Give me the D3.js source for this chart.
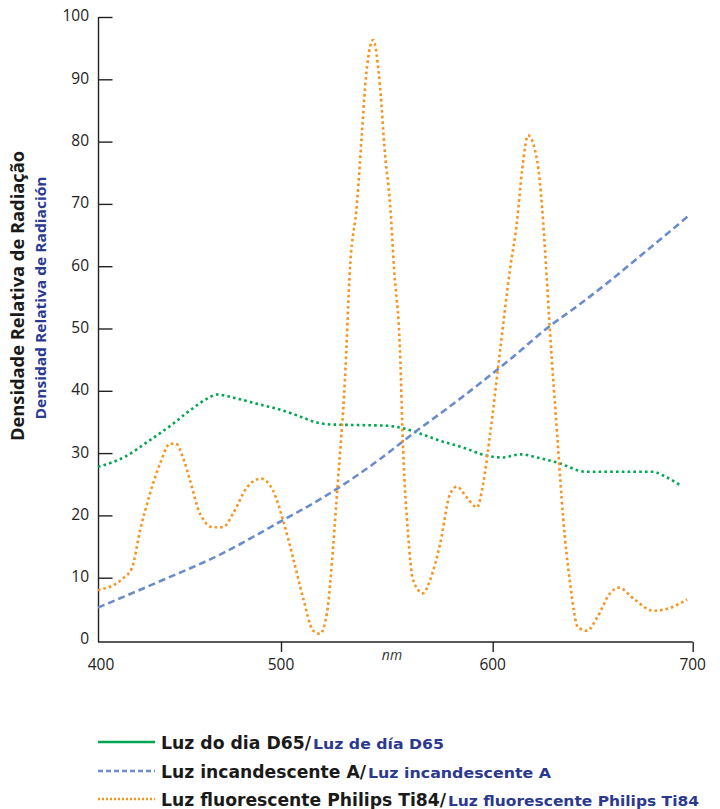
<!DOCTYPE html>
<html><head><meta charset="utf-8">
<script src="https://cdn.jsdelivr.net/npm/d3@7"></script>
<style>
html,body{margin:0;padding:0;background:#fff;}
svg{display:block;font-family:"Open Sans","Noto Sans",sans-serif;}
</style></head>
<body><svg id="c" width="720" height="809"></svg>
<script>
// ---- data ----
const xTicks = [400, 500, 600, 700];
const yTicks = [0, 10, 20, 30, 40, 50, 60, 70, 80, 90, 100];
const seriesNames = ["Luz do dia D65/", "Luz incandescente A/", "Luz fluorescente Philips Ti84/"];
const seriesNamesEs = ["Luz de día D65", "Luz incandescente A", "Luz fluorescente Philips Ti84"];
const d65 = [[400,27.8],[414,29.3],[428,32.0],[441,34.7],[450,36.8],[460,38.8],[465,39.4],[474,38.9],[487,37.9],[498,37.1],[508,36.0],[517,34.9],[523,34.6],[536,34.5],[550,34.4],[556,34.1],[566,33.1],[575,32.0],[586,30.9],[597,29.6],[605,29.3],[614,29.8],[622,29.3],[632,28.5],[647,27.0],[660,27.0],[680,27.0],[687,26.1],[694,24.8]];
const illA = [[400,5.2],[432,9.2],[468,13.9],[499,18.9],[520,22.9],[547,29.1],[563,33.3],[579,37.3],[594,41.2],[610,45.4],[627,50.0],[644,54.0],[660,58.0],[677,62.5],[698,68.1]];
const ti84 = [[400,8.0],[413.7,9.9],[418.6,11.6],[423,17.6],[428.4,23.5],[433.9,28.3],[439.3,31.5],[442.6,31.5],[446.4,29.3],[450.3,25.6],[455.7,20.3],[462.8,18.1],[468.3,18.1],[473.8,20.3],[481.4,24.5],[489,25.9],[495.6,24.0],[501,19.2],[505.7,13.2],[510.4,6.8],[515.2,1.5],[518.4,1.0],[521.7,4.3],[524.6,14.8],[526.9,25.6],[530.2,41.7],[532.6,59.8],[535.9,70.1],[538.3,81.8],[539.7,88.7],[543.5,96.3],[546.8,88.7],[549.1,78.1],[551.5,70.1],[553.4,59.6],[556.2,46.5],[557.7,30.4],[560,17.1],[562.4,9.6],[567.1,7.5],[570.4,9.6],[575.2,15.5],[579.9,23.5],[583.2,24.6],[587.9,22.8],[592.6,21.3],[595.5,25.1],[598.8,33.1],[603.7,46.5],[608.7,59.6],[612.2,67.3],[614.7,75.4],[617.7,81.0],[622.2,77.0],[624.7,69.4],[626.7,59.8],[628.7,49.2],[632.2,33.1],[635.2,19.7],[638.7,9.1],[642.7,2.0],[647.2,1.5],[652.2,3.6],[658.7,7.5],[663.2,8.4],[670.2,6.7],[680.2,4.7],[687.2,5.0],[697.2,6.5]];

const colors = ["#00a651", "#6b8ccc", "#f7931e"];
const blueText = "#2b3990";

const svg = d3.select("#c");
// irregular axis spacing as in the original artwork
const x = d3.scaleLinear().domain(xTicks).range([98, 281, 492.7, 692.7]);
const y = d3.scaleLinear().domain([0, 100]).range([640, 17]);

// y axis
const ya = svg.append("g").attr("transform", "translate(98.5,0)")
  .call(d3.axisRight(y).tickValues(yTicks).tickSize(14).tickFormat(""));
ya.select(".domain").attr("d", `M0,${y(100)}V${642}`).attr("stroke", "#222").attr("stroke-width", 1.4);
ya.selectAll(".tick line").attr("stroke", "#222").attr("stroke-width", 1.4);
ya.selectAll(".tick").filter(d => d === 0).select("line").remove();
svg.append("g").selectAll("text").data(yTicks).join("text")
  .attr("x", 89).attr("y", d => y(d) - 1).attr("dy", "0.35em")
  .attr("text-anchor", "end").attr("font-size", 15.5).attr("fill", "#222").text(d => d);

// x axis
const xa = svg.append("g").attr("transform", "translate(0,642)")
  .call(d3.axisBottom(x).tickValues(xTicks.slice(1)).tickSize(10).tickSizeOuter(0).tickFormat(""));
xa.select(".domain").attr("d", `M98,0H${x(700)}`).attr("stroke", "#222").attr("stroke-width", 1.4);
xa.selectAll(".tick line").attr("stroke", "#222").attr("stroke-width", 1.4);
svg.append("g").selectAll("text").data(xTicks).join("text")
  .attr("x", d => d === 400 ? 101 : x(d)).attr("y", 670)
  .attr("text-anchor", "middle").attr("font-size", 15.5).attr("fill", "#222").text(d => d);
svg.append("text").attr("x", 392).attr("y", 660).attr("text-anchor", "middle")
  .attr("font-size", 14).attr("font-style", "italic").attr("fill", "#333").text("nm");

// axis titles
svg.append("text").attr("transform", "translate(24,296) rotate(-90)").attr("text-anchor", "middle")
  .attr("font-size", 18).attr("font-weight", "bold").attr("fill", "#1a1a1a")
  .attr("textLength", 290).attr("lengthAdjust", "spacingAndGlyphs").text("Densidade Relativa de Radiação");
svg.append("text").attr("transform", "translate(46,298) rotate(-90)").attr("text-anchor", "middle")
  .attr("font-size", 15).attr("font-weight", "bold").attr("fill", blueText)
  .attr("textLength", 243).attr("lengthAdjust", "spacingAndGlyphs").text("Densidad Relativa de Radiación");

// lines
const line = d3.line().x(d => x(d[0])).y(d => y(d[1])).curve(d3.curveMonotoneX);
const dashes = ["2.6,3.2", "7,4", "2.6,3"];
const data = [d65, illA, ti84];
data.forEach((s, i) => {
  svg.append("path").datum(s).attr("d", line).attr("fill", "none")
    .attr("stroke", colors[i]).attr("stroke-width", 2.6).attr("stroke-dasharray", dashes[i]);
});

// legend
const legDash = [null, "5,3", "2,2"];
const legY = [742, 771, 799];
const blackW = [150, 205, 285];
const blueW = [131, 183, 251];
seriesNames.forEach((n, i) => {
  const g = svg.append("g");
  g.append("line").attr("x1", 98).attr("x2", 155).attr("y1", legY[i]).attr("y2", legY[i])
    .attr("stroke", colors[i]).attr("stroke-width", 2.6).attr("stroke-dasharray", legDash[i]);
  g.append("text").attr("x", 161).attr("y", legY[i] + 6.5).attr("font-weight", "bold")
    .attr("font-family", "'DejaVu Sans', sans-serif")
    .attr("font-size", 17).attr("fill", "#1a1a1a")
    .attr("textLength", blackW[i]).attr("lengthAdjust", "spacingAndGlyphs").text(n);
  g.append("text").attr("x", 161 + blackW[i] + 2).attr("y", legY[i] + 6.5).attr("font-weight", "bold")
    .attr("font-family", "'DejaVu Sans', sans-serif")
    .attr("font-size", 14).attr("fill", blueText)
    .attr("textLength", blueW[i]).attr("lengthAdjust", "spacingAndGlyphs").text(seriesNamesEs[i]);
});
</script></body></html>
